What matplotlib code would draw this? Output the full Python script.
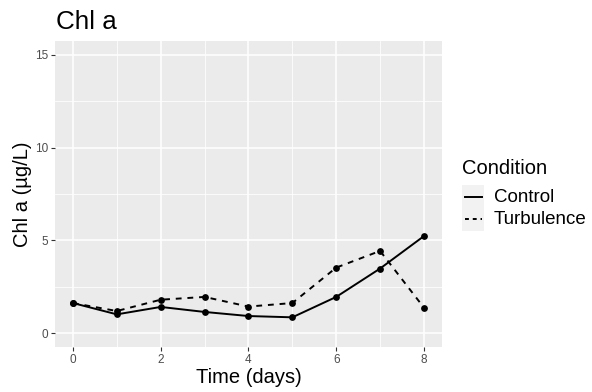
import matplotlib
matplotlib.use("Agg")
import matplotlib.pyplot as plt
from matplotlib.lines import Line2D
from matplotlib.patches import Rectangle

plt.rcParams['font.family'] = ['Liberation Sans', 'DejaVu Sans']

days = [0, 1, 2, 3, 4, 5, 6, 7, 8]
control = [1.62, 1.01, 1.41, 1.14, 0.92, 0.85, 1.95, 3.48, 5.23]
turbulence = [1.62, 1.19, 1.80, 1.95, 1.43, 1.62, 3.53, 4.43, 1.37]
y_ticks = [0, 5, 10, 15]
x_ticks = [0, 2, 4, 6, 8]
conditions = ['Control', 'Turbulence']
styles = ['-', (0, (2, 2))]

fig = plt.figure(figsize=(5.92, 3.92), dpi=100)
W, H = 592, 392


def fx(px):
    return px / W


def fy(py):
    return 1 - py / H


ax = fig.add_axes([fx(55.4), fy(347), (441.5 - 55.4) / W, (347 - 41) / H])
ax.set_facecolor('#EBEBEB')
for s in ax.spines.values():
    s.set_visible(False)

# major and minor grid, ggplot style
for v in y_ticks:
    ax.axhline(v, color='white', lw=1.1, zorder=0)
for v in [2.5, 7.5, 12.5]:
    ax.axhline(v, color='white', lw=0.55, zorder=0)
for v in x_ticks:
    ax.axvline(v, color='white', lw=1.1, zorder=0)
for v in [1, 3, 5, 7]:
    ax.axvline(v, color='white', lw=0.55, zorder=0)

ax.plot(days, control, color='black', lw=1.4, ls='-', zorder=3)
ax.plot(days, turbulence, color='black', lw=1.4, ls=(0, (3, 3)), zorder=3)
ax.scatter(days, control, s=24, color='black', linewidths=0, zorder=4)
ax.scatter(days, turbulence, s=24, color='black', linewidths=0, zorder=4)

ax.set_xlim(-0.4, 8.4)
ax.set_ylim(-0.75, 15.75)
ax.set_xticks(x_ticks)
ax.set_yticks(y_ticks)
ax.tick_params(axis='both', colors='#333333', labelsize=8.5, length=2.8,
               width=0.8, pad=2.5)
ax.tick_params(axis='both', labelcolor='#4D4D4D')

ax.set_xlabel('Time (days)', fontsize=14.5, color='black', labelpad=1)
ax.set_ylabel('Chl a (µg/L)', fontsize=14.5, color='black', labelpad=2)
fig.text(fx(55.5), fy(29), 'Chl a', fontsize=18.7, color='black',
         ha='left', va='baseline')

# legend drawn as a ggplot-style guide
fig.text(fx(462), fy(168), 'Condition', fontsize=14.5, color='black',
         ha='left', va='center')
fig.add_artist(Rectangle((fx(462), fy(231)), 22 / W, 46 / H,
                         transform=fig.transFigure, facecolor='#F2F2F2',
                         edgecolor='none'))
for i, (name, ls) in enumerate(zip(conditions, styles)):
    yc = 197 + 22 * i
    fig.add_artist(Line2D([fx(464.5), fx(481.5)], [fy(yc), fy(yc)],
                          transform=fig.transFigure, color='black', lw=1.4,
                          ls=ls))
    fig.text(fx(494), fy(yc + 1), name, fontsize=13.5, color='black',
             ha='left', va='center')

fig.savefig('out.png', dpi=100)
